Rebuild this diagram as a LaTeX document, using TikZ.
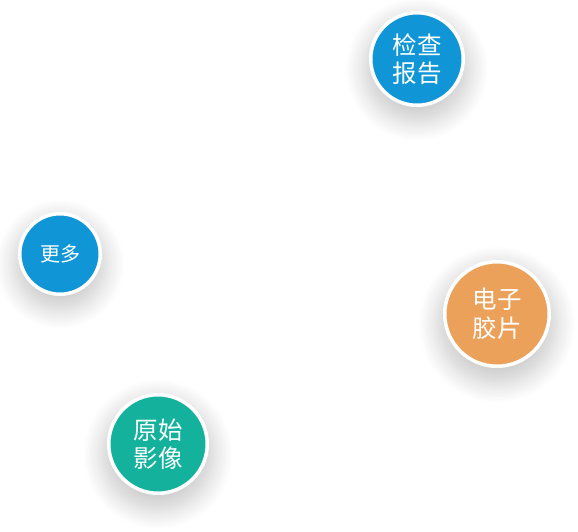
\documentclass[tikz,border=0pt]{standalone}
\usepackage{fontspec}
\setmainfont{Noto Sans CJK SC}
\definecolor{skyblue}{RGB}{16,150,214}
\definecolor{sandorange}{RGB}{236,161,90}
\definecolor{seateal}{RGB}{20,178,156}
\usepackage{tikz}
\usetikzlibrary{
  shapes.geometric,
  shadows.blur
}

\begin{document}
\begin{tikzpicture}[
  x=1pt, y=1pt,
  bubble/.style={circle, draw=white, line width=3.5pt, fill=#1, text=white, align=center, inner sep=0pt,
    blur shadow={shadow xshift=0pt, shadow yshift=-9pt, shadow blur radius=16pt, shadow blur steps=14, shadow opacity=20, shadow scale=1.15}},
  big/.style={font=\fontsize{24.5}{28.5}\selectfont},
  small/.style={font=\fontsize{20}{24}\selectfont}
]
  \useasboundingbox (0,0) rectangle (578,531);

  \node[bubble=skyblue, big, minimum size=92.5pt] (report) at (417,472) {检查\\报告};
  \node[bubble=skyblue, small, minimum size=80.5pt] (more) at (60,277) {更多};
  \node[bubble=sandorange, big, minimum size=104.5pt] (film) at (497,217) {电子\\胶片};
  \node[bubble=seateal, big, minimum size=98.5pt] (image) at (158,87) {原始\\影像};
\end{tikzpicture}
\end{document}
